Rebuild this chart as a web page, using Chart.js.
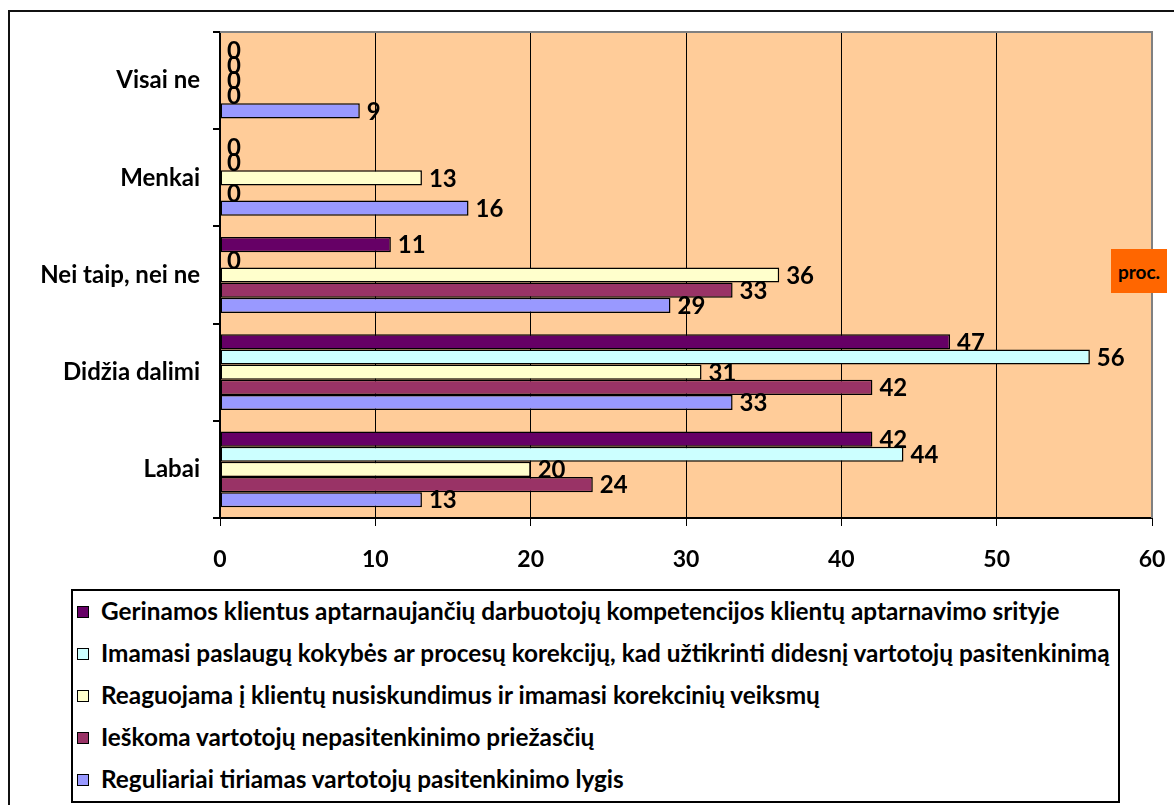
<!DOCTYPE html>
<html>
<head>
<meta charset="utf-8">
<script src="https://cdn.jsdelivr.net/npm/chart.js@4/dist/chart.umd.min.js"></script>
<style>
  html, body { margin: 0; padding: 0; background: #fff; overflow: hidden; }
  #wrap { position: relative; width: 1174px; height: 805px; }
  #frame { position: absolute; left: 8px; top: 10px; width: 1200px; height: 830px;
           border: 2px solid #111; box-sizing: border-box; }
  #chart { position: absolute; left: 0; top: 0; }
  #legend { position: absolute; left: 71px; top: 589px; width: 1049px; height: 214px;
            border: 2px solid #000; box-sizing: border-box; background: #fff;
            font-family: Lato, "Open Sans", sans-serif; font-weight: bold; color: #000; }
  .row { position: absolute; left: 0; white-space: nowrap; }
  .swatch { position: absolute; left: 4px; width: 10px; height: 10px; border: 1px solid #000; }
  .txt { position: absolute; left: 28px; line-height: 1; }
  #unit { position: absolute; left: 1111px; top: 249px; width: 56px; height: 44px;
          background: #FF6600; color: #000; font-family: Lato, sans-serif; font-weight: bold;
          font-size: 19px; display: flex; align-items: center; justify-content: center; }
</style>
</head>
<body>
<div id="wrap">
  <div id="frame"></div>
  <canvas id="chart" width="1174" height="805"></canvas>
  <div id="legend"></div>
  <div id="unit">proc.</div>
</div>
<script>
// Answer categories, top to bottom
const categories = ['Visai ne', 'Menkai', 'Nei taip, nei ne', 'Didžia dalimi', 'Labai'];

// Series names (legend order, also bar order inside each group)
const seriesNames = [
  'Gerinamos klientus aptarnaujančių darbuotojų kompetencijos klientų aptarnavimo srityje',
  'Imamasi paslaugų kokybės ar procesų korekcijų, kad užtikrinti didesnį vartotojų pasitenkinimą',
  'Reaguojama į klientų nusiskundimus ir imamasi korekcinių veiksmų',
  'Ieškoma vartotojų nepasitenkinimo priežasčių',
  'Reguliariai tiriamas vartotojų pasitenkinimo lygis'
];

// Percentages per category
const gerinamos   = [0, 0, 11, 47, 42];
const imamasi     = [0, 0, 0, 56, 44];
const reaguojama  = [0, 13, 36, 31, 20];
const ieskoma     = [0, 0, 33, 42, 24];
const reguliariai = [9, 16, 29, 33, 13];

const seriesColors = ['#660066', '#CCFFFF', '#FFFFCC', '#993366', '#9999FF'];

// Value axis ticks
const xTicks = [0, 10, 20, 30, 40, 50, 60];

const seriesValues = [gerinamos, imamasi, reaguojama, ieskoma, reguliariai];
const FONT = 'Lato, "Open Sans", sans-serif';

// Plot background and the grey frame on top/right of the plot
const plotFrame = {
  id: 'plotFrame',
  beforeDraw(chart) {
    const { ctx, chartArea: a } = chart;
    ctx.save();
    ctx.fillStyle = '#FFCC99';
    ctx.fillRect(a.left, a.top, a.right - a.left, a.bottom - a.top);
    ctx.restore();
  },
  afterDraw(chart) {
    const { ctx, chartArea: a } = chart;
    ctx.save();
    ctx.strokeStyle = '#808080';
    ctx.lineWidth = 2;
    ctx.beginPath();
    ctx.moveTo(a.left, a.top);
    ctx.lineTo(a.right, a.top);
    ctx.lineTo(a.right, a.bottom);
    ctx.stroke();
    ctx.restore();
  }
};

// Value labels at the end of each bar
const valueLabels = {
  id: 'valueLabels',
  afterDatasetsDraw(chart) {
    const { ctx } = chart;
    ctx.save();
    ctx.font = 'bold 24px ' + FONT;
    ctx.fillStyle = '#000';
    ctx.textAlign = 'left';
    ctx.textBaseline = 'middle';
    chart.data.datasets.forEach((ds, di) => {
      const meta = chart.getDatasetMeta(di);
      meta.data.forEach((el, i) => {
        ctx.fillText(String(ds.data[i]), el.x + 7, el.y + 1);
      });
    });
    ctx.restore();
  }
};

new Chart(document.getElementById('chart'), {
  type: 'bar',
  data: {
    labels: categories,
    datasets: seriesNames.map((name, i) => ({
      label: name,
      data: seriesValues[i],
      backgroundColor: seriesColors[i],
      borderColor: '#000',
      borderWidth: (c) => (c.raw === 0 ? 0 : 1.5),
      borderSkipped: false,
      categoryPercentage: 0.78,
      barPercentage: 1.0
    }))
  },
  options: {
    indexAxis: 'y',
    responsive: false,
    animation: false,
    layout: { padding: { left: 8, top: 32, right: 22, bottom: 227 } },
    plugins: { legend: { display: false }, tooltip: { enabled: false } },
    scales: {
      x: {
        type: 'linear',
        min: 0,
        max: 60,
        afterBuildTicks(s) { s.ticks = xTicks.map(v => ({ value: v })); },
        afterFit(s) { s.height = 60; s.paddingLeft = 0; s.paddingRight = 0; },
        ticks: { color: '#000', font: { family: FONT, weight: 'bold', size: 23 }, padding: 20 },
        grid: {
          color: (c) => (c.tick && c.tick.value === 60 ? '#808080' : '#000'),
          tickColor: '#000',
          lineWidth: 1,
          tickLength: 8
        },
        border: { color: '#000', width: 2 }
      },
      y: {
        afterFit(s) { s.width = 212; s.paddingTop = 0; s.paddingBottom = 0; },
        ticks: { color: '#000', font: { family: FONT, weight: 'bold', size: 24 }, padding: 13 },
        grid: { drawOnChartArea: false, tickLength: 7, color: '#000', lineWidth: 2 },
        border: { color: '#000', width: 2 }
      }
    }
  },
  plugins: [plotFrame, valueLabels]
});

// Legend: one row per series; text size chosen so the two longest lines fit their spans
(function buildLegend() {
  const legend = document.getElementById('legend');
  const m = document.createElement('canvas').getContext('2d');
  m.font = 'bold 100px ' + FONT;
  const size = Math.min(
    100 * 970 / m.measureText(seriesNames[0]).width,
    100 * 1010 / m.measureText(seriesNames[1]).width
  );
  const top0 = 612 - 589 - 2;
  seriesNames.forEach((name, i) => {
    const cy = top0 + i * 42;
    const row = document.createElement('div');
    row.className = 'row';
    row.style.top = cy + 'px';
    const sw = document.createElement('div');
    sw.className = 'swatch';
    sw.style.background = seriesColors[i];
    sw.style.top = '-6px';
    const tx = document.createElement('div');
    tx.className = 'txt';
    tx.style.fontSize = size.toFixed(2) + 'px';
    tx.style.top = (-size * 0.55) + 'px';
    tx.textContent = name;
    row.appendChild(sw);
    row.appendChild(tx);
    legend.appendChild(row);
  });
})();
</script>
</body>
</html>
